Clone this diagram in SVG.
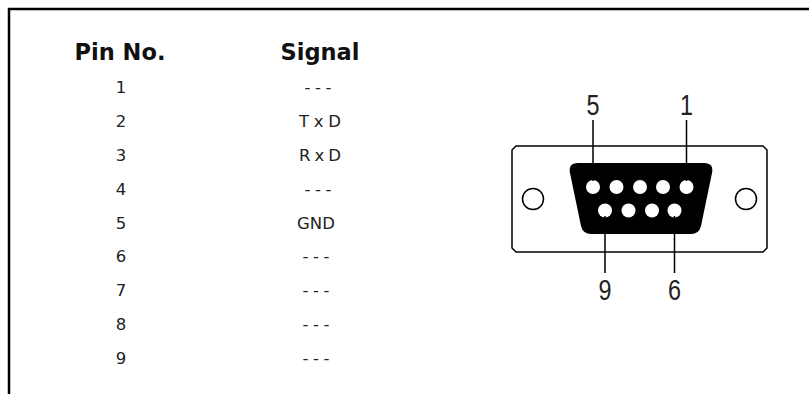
<svg xmlns="http://www.w3.org/2000/svg" width="809" height="394" viewBox="0 0 809 394">
<style>
.hd{font-family:"DejaVu Sans",Verdana,sans-serif;font-weight:bold;font-size:22.5px;fill:#111;text-anchor:middle}
.tx{font-family:"DejaVu Sans",Verdana,sans-serif;font-size:16.5px;fill:#222;text-anchor:middle}
.lb{font-family:"Liberation Sans",Arial,sans-serif;font-size:30px;fill:#222;text-anchor:middle}
.ln{stroke:#000;stroke-width:1.5;fill:none}
.pin{fill:#fff}
</style>
<rect width="809" height="394" fill="#fff"/>
<g id="frame"><path d="M9 394 V9 H809" stroke="#000" stroke-width="2.5" fill="none"/></g>
<g id="table">
<text class="hd" x="120" y="60">Pin No.</text>
<text class="hd" x="320" y="60">Signal</text>
<g class="tx">
<text x="121" y="93">1</text><text x="121" y="127">2</text><text x="121" y="161">3</text><text x="121" y="195">4</text><text x="121" y="229">5</text><text x="121" y="262">6</text><text x="121" y="296">7</text><text x="121" y="330">8</text><text x="121" y="364">9</text>
<text x="318" y="93" textLength="27" lengthAdjust="spacing">---</text>
<text x="320" y="127" textLength="42" lengthAdjust="spacing">TxD</text>
<text x="320" y="161" textLength="42" lengthAdjust="spacing">RxD</text>
<text x="318" y="195" textLength="27" lengthAdjust="spacing">---</text>
<text x="316" y="229">GND</text>
<text x="316" y="262" textLength="27" lengthAdjust="spacing">---</text>
<text x="316" y="296" textLength="27" lengthAdjust="spacing">---</text>
<text x="316" y="330" textLength="27" lengthAdjust="spacing">---</text>
<text x="316" y="364" textLength="27" lengthAdjust="spacing">---</text>
</g>
</g>
<g id="connector">
<path class="ln" d="M516 146 H763 L767 150 V248 L763 252 H516 L512 248 V150 Z"/>
<circle class="ln" cx="533" cy="199" r="10.5" stroke-width="1.8"/>
<circle class="ln" cx="746" cy="199" r="10.5" stroke-width="1.8"/>
<path d="M578 163 H704 Q714 163 712 173 L701 226 Q699 234 691 234 H591 Q583 234 581 226 L570 173 Q568 163 578 163 Z" fill="#000"/>
<g class="pin">
<circle cx="593" cy="187" r="7"/><circle cx="616.5" cy="187" r="7"/><circle cx="640" cy="187" r="7"/><circle cx="663" cy="187" r="7"/><circle cx="686.5" cy="187" r="7"/>
<circle cx="605" cy="210.5" r="7"/><circle cx="628.5" cy="210.5" r="7"/><circle cx="652" cy="210.5" r="7"/><circle cx="674.5" cy="210.5" r="7"/>
</g>
</g>
<g id="connectors">
<path class="ln" d="M593 120 V181 M686.5 120 V181 M605 216 V273 M674.5 216 V273"/>
</g>
<g id="labels">
<text class="lb" transform="translate(593 115) scale(0.78 1)">5</text>
<text class="lb" transform="translate(686.5 115) scale(0.78 1)">1</text>
<text class="lb" transform="translate(605 300) scale(0.78 1)">9</text>
<text class="lb" transform="translate(674.5 300) scale(0.78 1)">6</text>
</g>
</svg>
